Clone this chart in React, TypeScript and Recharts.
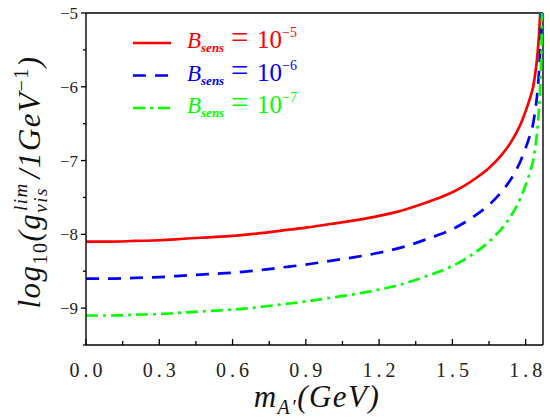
import { Line, LineChart, ReferenceLine, XAxis, YAxis } from "recharts";

// A' mass (GeV) and log10 of the visible coupling limit for three sensitivities
const mass = [
  0, 0.1, 0.2, 0.3, 0.4, 0.5, 0.6, 0.7, 0.8, 0.9, 1.0, 1.1, 1.2, 1.3, 1.4,
  1.45, 1.5, 1.55, 1.6, 1.65, 1.7, 1.74, 1.78, 1.8, 1.82, 1.83, 1.837, 1.844,
  1.85, 1.855, 1.858, 1.861, 1.864, 1.867, 1.87,
];
const limitB5 = [
  -8.1, -8.1, -8.09, -8.08, -8.06, -8.04, -8.02, -7.99, -7.95, -7.91, -7.86,
  -7.81, -7.75, -7.67, -7.56, -7.5, -7.43, -7.34, -7.23, -7.1, -6.93, -6.75,
  -6.5, -6.33, -6.13, -6.01, -5.87, -5.7, -5.5, -5.28, -5.1, -4.88, -4.55,
  -4.05, -3.5,
];
const limitB6 = [
  -8.6, -8.6, -8.59, -8.58, -8.56, -8.54, -8.52, -8.49, -8.45, -8.41, -8.36,
  -8.31, -8.25, -8.17, -8.06, -8.0, -7.93, -7.84, -7.73, -7.6, -7.43, -7.25,
  -7.0, -6.83, -6.63, -6.51, -6.37, -6.2, -6.0, -5.78, -5.6, -5.38, -5.05,
  -4.55, -4.0,
];
const limitB7 = [
  -9.1, -9.1, -9.09, -9.08, -9.06, -9.04, -9.02, -8.99, -8.95, -8.91, -8.86,
  -8.81, -8.75, -8.67, -8.56, -8.5, -8.43, -8.34, -8.23, -8.1, -7.93, -7.75,
  -7.5, -7.33, -7.13, -7.01, -6.87, -6.7, -6.5, -6.28, -6.1, -5.88, -5.55,
  -5.05, -4.5,
];

const X_MAX = 1.871;
const xTicks = [
  0, 0.15, 0.3, 0.45, 0.6, 0.75, 0.9, 1.05, 1.2, 1.35, 1.5, 1.65, 1.8,
];
const yTicks = [-9.5, -9, -8.5, -8, -7.5, -7, -6.5, -6, -5.5, -5];

const series = [
  { key: "b5", exp: "5", color: "#ff0000", dash: undefined },
  { key: "b6", exp: "6", color: "#0000ff", dash: "13 9" },
  { key: "b7", exp: "7", color: "#00ff00", dash: "12 5 3 5" },
];

const data = mass.map((m, i) => ({
  m,
  b5: limitB5[i],
  b6: limitB6[i],
  b7: limitB7[i],
}));

const FONT = "'Liberation Serif', 'Times New Roman', serif";

const isMajor = (v: number, step: number) =>
  Math.abs(v / step - Math.round(v / step)) < 1e-6;

function XTick({ x, y, payload }: any) {
  const v = payload.value as number;
  const major = isMajor(v, 0.3);
  return (
    <g>
      <line x1={x} x2={x} y1={y} y2={y - (major ? 6 : 4)} stroke="#000" strokeWidth={1.3} />
      {major && (
        <text
          x={x + 2}
          y={y + 32}
          textAnchor="middle"
          fontFamily={FONT}
          fontSize={20}
          letterSpacing={4}
          fill="#222"
        >
          {v.toFixed(1)}
        </text>
      )}
    </g>
  );
}

function YTick({ x, y, payload }: any) {
  const v = payload.value as number;
  const major = isMajor(v, 1);
  return (
    <g>
      <line x1={x} x2={x - (major ? 5 : 3)} y1={y} y2={y} stroke="#000" strokeWidth={1.3} />
      {major && (
        <text
          x={x - 8}
          y={y + 6}
          textAnchor="end"
          fontFamily={FONT}
          fontSize={17}
          fill="#222"
        >
          {"\u2212" + Math.abs(v)}
        </text>
      )}
    </g>
  );
}

function Titles() {
  return (
    <g fontFamily={FONT} fill="#111">
      <text x={317} y={407} textAnchor="middle" fontSize={31} fontStyle="italic" letterSpacing={1.5}>
        <tspan>m</tspan>
        <tspan fontSize={20} dy={7}>A′</tspan>
        <tspan dy={-7}>(GeV)</tspan>
      </text>
      <text
        transform="rotate(-90 40 182)"
        x={40}
        y={182}
        textAnchor="middle"
        fontSize={31}
        fontStyle="italic"
        letterSpacing={1.5}
      >
        <tspan>log</tspan>
        <tspan fontSize={20} fontStyle="normal" dy={7}>10</tspan>
        <tspan dy={-7}>(g</tspan>
        <tspan fontSize={19} dy={7}>vis</tspan>
        <tspan fontSize={19} dx={-24} dy={-20}>lim</tspan>
        <tspan dx={4} dy={13}>/1GeV</tspan>
        <tspan fontSize={20} fontStyle="normal" dy={-12}>{"\u22121"}</tspan>
        <tspan dy={12}>)</tspan>
      </text>
    </g>
  );
}

function LegendBox() {
  return (
    <g fontFamily={FONT}>
      {series.map((s, i) => {
        const y = 43 + i * 32.5;
        return (
          <g key={s.key}>
            <line
              x1={133}
              x2={171}
              y1={y}
              y2={y}
              stroke={s.color}
              strokeWidth={2.6}
              strokeDasharray={s.dash}
            />
            <text x={187} y={y + 5} fill={s.color} fontSize={23}>
              <tspan fontStyle="italic">B</tspan>
              <tspan fontStyle="italic" fontWeight="bold" fontSize={13} dy={4}>
                sens
              </tspan>
              <tspan x={231} dy={-4} fontSize={31}>=</tspan>
              <tspan x={257} fontSize={25}>10</tspan>
              <tspan fontSize={14} dy={-11}>{"\u2212" + s.exp}</tspan>
            </text>
          </g>
        );
      })}
    </g>
  );
}

export default function App() {
  return (
    <div style={{ position: "absolute", left: 0, top: 0, background: "#fff" }}>
      <LineChart
        width={550}
        height={418}
        data={data}
        margin={{ top: 13, right: 7, bottom: 0, left: 0 }}
      >
        <XAxis
          dataKey="m"
          type="number"
          domain={[0, X_MAX]}
          allowDataOverflow
          ticks={xTicks}
          interval={0}
          height={73}
          tickSize={0}
          tickMargin={0}
          tickLine={false}
          axisLine={{ stroke: "#000", strokeWidth: 1.4 }}
          tick={<XTick />}
        />
        <YAxis
          type="number"
          domain={[-9.5, -5]}
          allowDataOverflow
          ticks={yTicks}
          interval={0}
          width={86}
          tickSize={0}
          tickMargin={0}
          tickLine={false}
          axisLine={{ stroke: "#000", strokeWidth: 1.4 }}
          tick={<YTick />}
        />
        <ReferenceLine y={-5} stroke="#000" strokeWidth={1.4} />
        <ReferenceLine x={X_MAX} stroke="#000" strokeWidth={1.4} />
        {series.map((s) => (
          <Line
            key={s.key}
            dataKey={s.key}
            type="monotone"
            stroke={s.color}
            strokeWidth={2.7}
            strokeDasharray={s.dash}
            dot={false}
            activeDot={false}
            isAnimationActive={false}
          />
        ))}
        <LegendBox />
        <Titles />
      </LineChart>
    </div>
  );
}
